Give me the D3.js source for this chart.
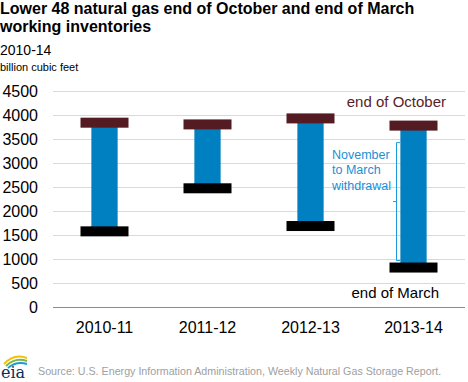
<!DOCTYPE html>
<html><head><meta charset="utf-8">
<script src="https://cdn.jsdelivr.net/npm/d3@7"></script>
<style>body{margin:0;background:#fff}svg{display:block;font-family:"Liberation Sans",Arial,sans-serif}</style>
</head><body>
<script>
const categories = ["2010-11","2011-12","2012-13","2013-14"];
const endOctober = [3840, 3804, 3929, 3779];
const endMarch = [1576, 2473, 1687, 822];
const yTicks = [0,500,1000,1500,2000,2500,3000,3500,4000,4500];

const W = 468, H = 382;
const svg = d3.select("body").append("svg").attr("width", W).attr("height", H);

const x = d3.scaleBand().domain(categories).range([53, 465]).padding(0);
const y = d3.scaleLinear().domain([0, 4500]).range([307, 91]);

// titles
svg.append("text").attr("x", 0).attr("y", 14).attr("font-size", 16).attr("font-weight", "bold").attr("fill", "#000")
  .text("Lower 48 natural gas end of October and end of March");
svg.append("text").attr("x", 0).attr("y", 32).attr("font-size", 16).attr("font-weight", "bold").attr("fill", "#000")
  .text("working inventories");
svg.append("text").attr("x", 0).attr("y", 55).attr("font-size", 14).attr("fill", "#000").text("2010-14");
svg.append("text").attr("x", 0).attr("y", 71).attr("font-size", 11).attr("fill", "#000").text("billion cubic feet");

// gridlines
svg.append("g").selectAll("line").data(yTicks.filter(d => d > 0)).join("line")
  .attr("x1", x.range()[0]).attr("x2", x.range()[1])
  .attr("y1", d => y(d) + 0.5).attr("y2", d => y(d) + 0.5)
  .attr("stroke", "#d9d9d9").attr("stroke-width", 1);
svg.append("line").attr("x1", x.range()[0]).attr("x2", x.range()[1])
  .attr("y1", y(0) + 0.5).attr("y2", y(0) + 0.5).attr("stroke", "#8c8c8c").attr("stroke-width", 1);

// y axis
const yAxis = d3.axisLeft(y).tickValues(yTicks).tickSize(0).tickPadding(15).tickFormat(d3.format("d"));
const ga = svg.append("g").attr("transform", `translate(${x.range()[0]},0)`).call(yAxis);
ga.select(".domain").remove();
ga.selectAll("text").attr("font-size", 16).attr("fill", "#000").attr("font-family", '"Liberation Sans",Arial,sans-serif');

// x labels
svg.append("g").selectAll("text").data(categories).join("text")
  .attr("x", d => x(d) + x.bandwidth() / 2).attr("y", 333)
  .attr("text-anchor", "middle").attr("font-size", 16).attr("fill", "#000").text(d => d);

const bw = x.bandwidth();
const blueW = bw * 0.255, capW = bw * 0.466, capH = 10;
const data = categories.map((c, i) => ({c, oct: endOctober[i], mar: endMarch[i]}));

svg.append("g").selectAll("rect").data(data).join("rect")
  .attr("x", d => x(d.c) + bw / 2 - blueW / 2).attr("width", blueW)
  .attr("y", d => y(d.oct)).attr("height", d => y(d.mar) - y(d.oct))
  .attr("fill", "#0080c0");
svg.append("g").selectAll("rect").data(data).join("rect")
  .attr("x", d => x(d.c) + bw / 2 - capW / 2).attr("width", capW)
  .attr("y", d => y(d.oct) - capH / 2).attr("height", capH)
  .attr("fill", "#541b22");
svg.append("g").selectAll("rect").data(data).join("rect")
  .attr("x", d => x(d.c) + bw / 2 - capW / 2).attr("width", capW)
  .attr("y", d => y(d.mar) - capH / 2).attr("height", capH)
  .attr("fill", "#000");

// annotations
svg.append("text").attr("x", 446).attr("y", 107).attr("text-anchor", "end").attr("font-size", 15)
  .attr("fill", "#5a1d26").text("end of October");
svg.append("text").attr("x", 439).attr("y", 298).attr("text-anchor", "end").attr("font-size", 15)
  .attr("fill", "#000").text("end of March");
const ann = svg.append("text").attr("font-size", 12.5).attr("fill", "#1a8fd8");
["November", "to March", "withdrawal"].forEach((t, i) => {
  ann.append("tspan").attr("x", 332).attr("y", 159 + i * 15.3).text(t);
});
const last = data[3];
const bx = 396.5, bTop = y(last.oct) + 17, bBot = y(last.mar) - 7;
svg.append("path")
  .attr("d", `M${bx + 3.5},${bTop}H${bx}V${bBot}H${bx + 3.5}M${bx},${(bTop + bBot) / 2}H${bx - 3.5}`)
  .attr("fill", "none").attr("stroke", "#1a9be0").attr("stroke-width", 1);

// footer
svg.append("text").attr("x", 38).attr("y", 375).attr("font-size", 10.7).attr("fill", "#a0a0a0")
  .text("Source: U.S. Energy Information Administration, Weekly Natural Gas Storage Report.");
const logo = svg.append("g");
logo.append("path").attr("d", "M4,364 Q14,353 27,358").attr("fill", "none").attr("stroke", "#f2c200").attr("stroke-width", 2);
logo.append("path").attr("d", "M6,366 Q15,357 27,361").attr("fill", "none").attr("stroke", "#7ab648").attr("stroke-width", 2);
logo.append("path").attr("d", "M8,368 Q16,361 27,364").attr("fill", "none").attr("stroke", "#1e9ad6").attr("stroke-width", 2);
logo.append("text").attr("x", 1).attr("y", 378).attr("font-size", 16).attr("font-family", '"DejaVu Serif",serif')
  .attr("fill", "#0b2d5a").text("eia");
</script>
</body></html>
